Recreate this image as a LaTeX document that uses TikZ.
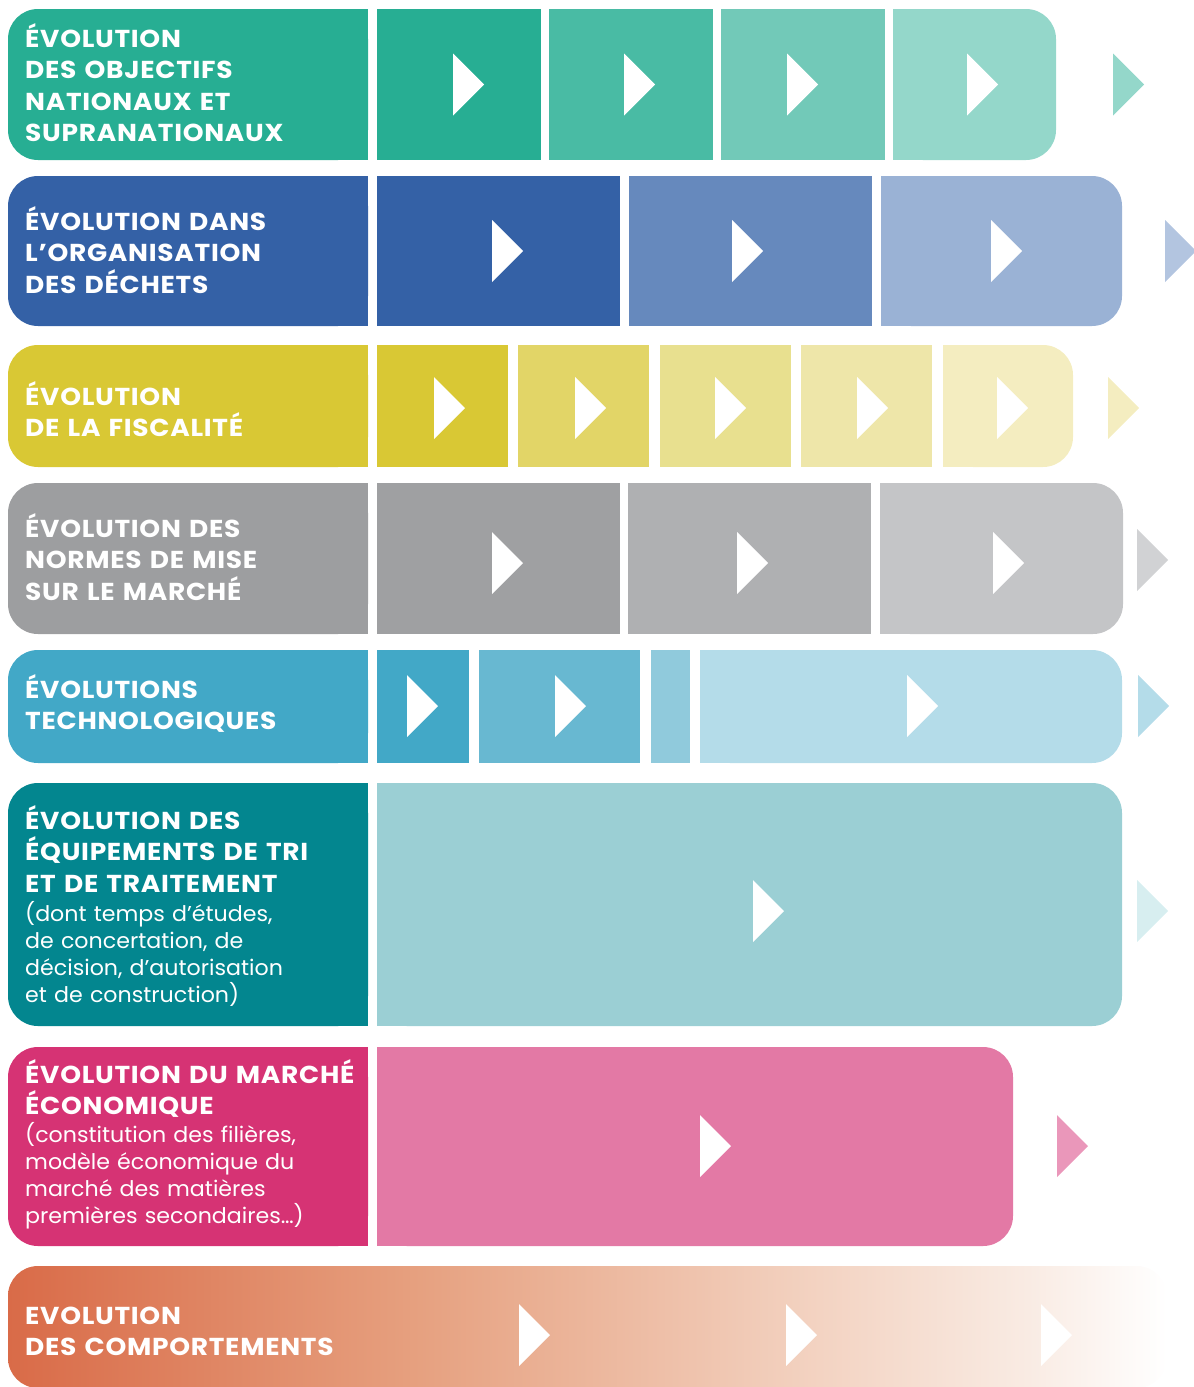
\documentclass[tikz,border=0pt]{standalone}
\usepackage{fontspec}
\setmainfont{Poppins}
\newfontfamily\headfont{Poppins}[FakeStretch=1.08, LetterSpace=3]
\newfontfamily\notefont{Poppins}[FakeStretch=1.03]
\usetikzlibrary{calc}

% row palettes: label colour first, then lighter steps
\definecolor{gA}{HTML}{27AE93}\definecolor{gB}{HTML}{49BBA4}\definecolor{gC}{HTML}{72C9B8}\definecolor{gD}{HTML}{94D7CA}
\definecolor{bA}{HTML}{3461A6}\definecolor{bB}{HTML}{6689BD}\definecolor{bC}{HTML}{9AB2D5}\definecolor{bD}{HTML}{B3C5E0}
\definecolor{yA}{HTML}{D9C834}\definecolor{yB}{HTML}{E2D567}\definecolor{yC}{HTML}{E8E08F}\definecolor{yD}{HTML}{EEE6A9}\definecolor{yE}{HTML}{F4EDC0}
\definecolor{kL}{HTML}{9D9EA0}\definecolor{kA}{HTML}{9FA0A2}\definecolor{kB}{HTML}{AFB0B2}\definecolor{kC}{HTML}{C4C5C7}\definecolor{kD}{HTML}{D1D2D4}
\definecolor{cA}{HTML}{42A8C7}\definecolor{cB}{HTML}{68B8D1}\definecolor{cC}{HTML}{90CADC}\definecolor{cD}{HTML}{B4DCE9}
\definecolor{tA}{HTML}{03868F}\definecolor{tB}{HTML}{9BCFD4}\definecolor{tC}{HTML}{D7EEF0}
\definecolor{pA}{HTML}{D63374}\definecolor{pB}{HTML}{E379A5}\definecolor{pC}{HTML}{EA97BA}
\definecolor{oA}{HTML}{D96B48}\definecolor{oB}{HTML}{E6A07F}\definecolor{oC}{HTML}{F3D3C2}\definecolor{oD}{HTML}{F9EBE3}

% orange fading to white, stops placed on the 25bp--75bp band
\pgfdeclarehorizontalshading{behaviour}{100bp}{color(0bp)=(oA); color(25bp)=(oA);
  color(42.5bp)=(oB); color(60bp)=(oC); color(69bp)=(oD); color(75bp)=(white); color(100bp)=(white)}

% label box with rounded left side
\newcommand\tagbox[3]{%
  \fill[#3, rounded corners=30pt] (8,#1) rectangle (368,#2);
  \fill[#3] (300,#1) rectangle (368,#2);}
% final segment with rounded right side: x1 x2 y1 y2 colour
\newcommand\lastseg[5]{%
  \fill[#5, rounded corners=30pt] (#1,#3) rectangle (#2,#4);
  \fill[#5] (#1,#3) rectangle ($(#1,#4)+(60,0)$);}
% plain segment
\newcommand\midseg[5]{\fill[#5] (#1,#3) rectangle (#2,#4);}
% play mark: left x, centre y, colour
\newcommand\playmark[3]{\fill[#3] (#1,#2) ++(0,-31) -- ++(31,31) -- ++(-31,31) -- cycle;}

\begin{document}
\begin{tikzpicture}[x=1pt,y=-1pt,
  title/.style={anchor=base west, text=white, inner sep=0pt, text width=420pt, align=left,
    font=\headfont\bfseries\fontsize{24.5}{31.6}\selectfont},
  sub/.style={anchor=base west, text=white, inner sep=0pt, text width=420pt, align=left,
    font=\notefont\fontsize{21.5}{27}\selectfont}]
\useasboundingbox (0,0) rectangle (1194,1387);

% ---- objectifs
\tagbox{9}{160}{gA}
\midseg{377}{541}{9}{160}{gA}
\midseg{549}{713}{9}{160}{gB}
\midseg{721}{885}{9}{160}{gC}
\lastseg{893}{1056}{9}{160}{gD}
\playmark{453}{84.5}{white}\playmark{624}{84.5}{white}\playmark{787}{84.5}{white}\playmark{967}{84.5}{white}
\playmark{1113}{84.5}{gD}
\node[title] (objectifs) at (25,47) {ÉVOLUTION\\DES OBJECTIFS\\NATIONAUX ET\\SUPRANATIONAUX};

% ---- organisation des déchets
\tagbox{176}{326}{bA}
\midseg{377}{620}{176}{326}{bA}
\midseg{629}{872}{176}{326}{bB}
\lastseg{881}{1122}{176}{326}{bC}
\playmark{492}{251}{white}\playmark{732}{251}{white}\playmark{991}{251}{white}
\playmark{1165}{251}{bD}
\node[title] (organisation) at (25,230) {ÉVOLUTION DANS\\L’ORGANISATION\\DES DÉCHETS};

% ---- fiscalité
\tagbox{345}{467}{yA}
\midseg{377}{508}{345}{467}{yA}
\midseg{518}{649}{345}{467}{yB}
\midseg{660}{791}{345}{467}{yC}
\midseg{801}{932}{345}{467}{yD}
\lastseg{943}{1073}{345}{467}{yE}
\playmark{434}{408}{white}\playmark{575}{408}{white}\playmark{715}{408}{white}\playmark{857}{408}{white}\playmark{997}{408}{white}
\playmark{1108}{408}{yE}
\node[title] (fiscalite) at (25,405) {ÉVOLUTION\\DE LA FISCALITÉ};

% ---- normes de mise sur le marché
\tagbox{483}{634}{kL}
\midseg{377}{620}{483}{634}{kA}
\midseg{628}{871}{483}{634}{kB}
\lastseg{880}{1123}{483}{634}{kC}
\playmark{492}{563}{white}\playmark{737}{563}{white}\playmark{993}{563}{white}
\playmark{1137}{560}{kD}
\node[title] (normes) at (25,537) {ÉVOLUTION DES\\NORMES DE MISE\\SUR LE MARCHÉ};

% ---- technologies
\tagbox{650}{763}{cA}
\midseg{377}{469}{650}{763}{cA}
\midseg{479}{640}{650}{763}{cB}
\midseg{651}{690}{650}{763}{cC}
\lastseg{700}{1122}{650}{763}{cD}
\playmark{407}{706}{white}\playmark{555}{706}{white}\playmark{907}{706}{white}
\playmark{1138}{706}{cD}
\node[title] (techno) at (25,698) {ÉVOLUTIONS\\TECHNOLOGIQUES};

% ---- équipements de tri et de traitement
\tagbox{783}{1026}{tA}
\lastseg{377}{1122}{783}{1026}{tB}
\playmark{753}{911}{white}
\playmark{1137}{911}{tC}
\node[title] (equipements) at (25,829) {ÉVOLUTION DES\\ÉQUIPEMENTS DE TRI\\ET DE TRAITEMENT};
\node[sub] (equipementsnote) at (25,921) {(dont temps d’études,\\de concertation, de\\décision, d’autorisation\\et de construction)};

% ---- marché économique
\tagbox{1047}{1246}{pA}
\lastseg{377}{1013}{1047}{1246}{pB}
\playmark{700}{1146}{white}
\playmark{1057}{1146}{pC}
\node[title] (marche) at (25,1083) {ÉVOLUTION DU MARCHÉ\\ÉCONOMIQUE};
\node[sub] (marchenote) at (25,1142) {(constitution des filières,\\modèle économique du\\marché des matières\\premières secondaires…)};

% ---- comportements
\shade[shading=behaviour, rounded corners=30pt] (8,1266) rectangle (1167,1388);
\playmark{519}{1335}{white}\playmark{786}{1335}{white}\playmark{1041}{1335}{white}
\node[title] (comportements) at (25,1324) {EVOLUTION\\DES COMPORTEMENTS};
\end{tikzpicture}
\end{document}
